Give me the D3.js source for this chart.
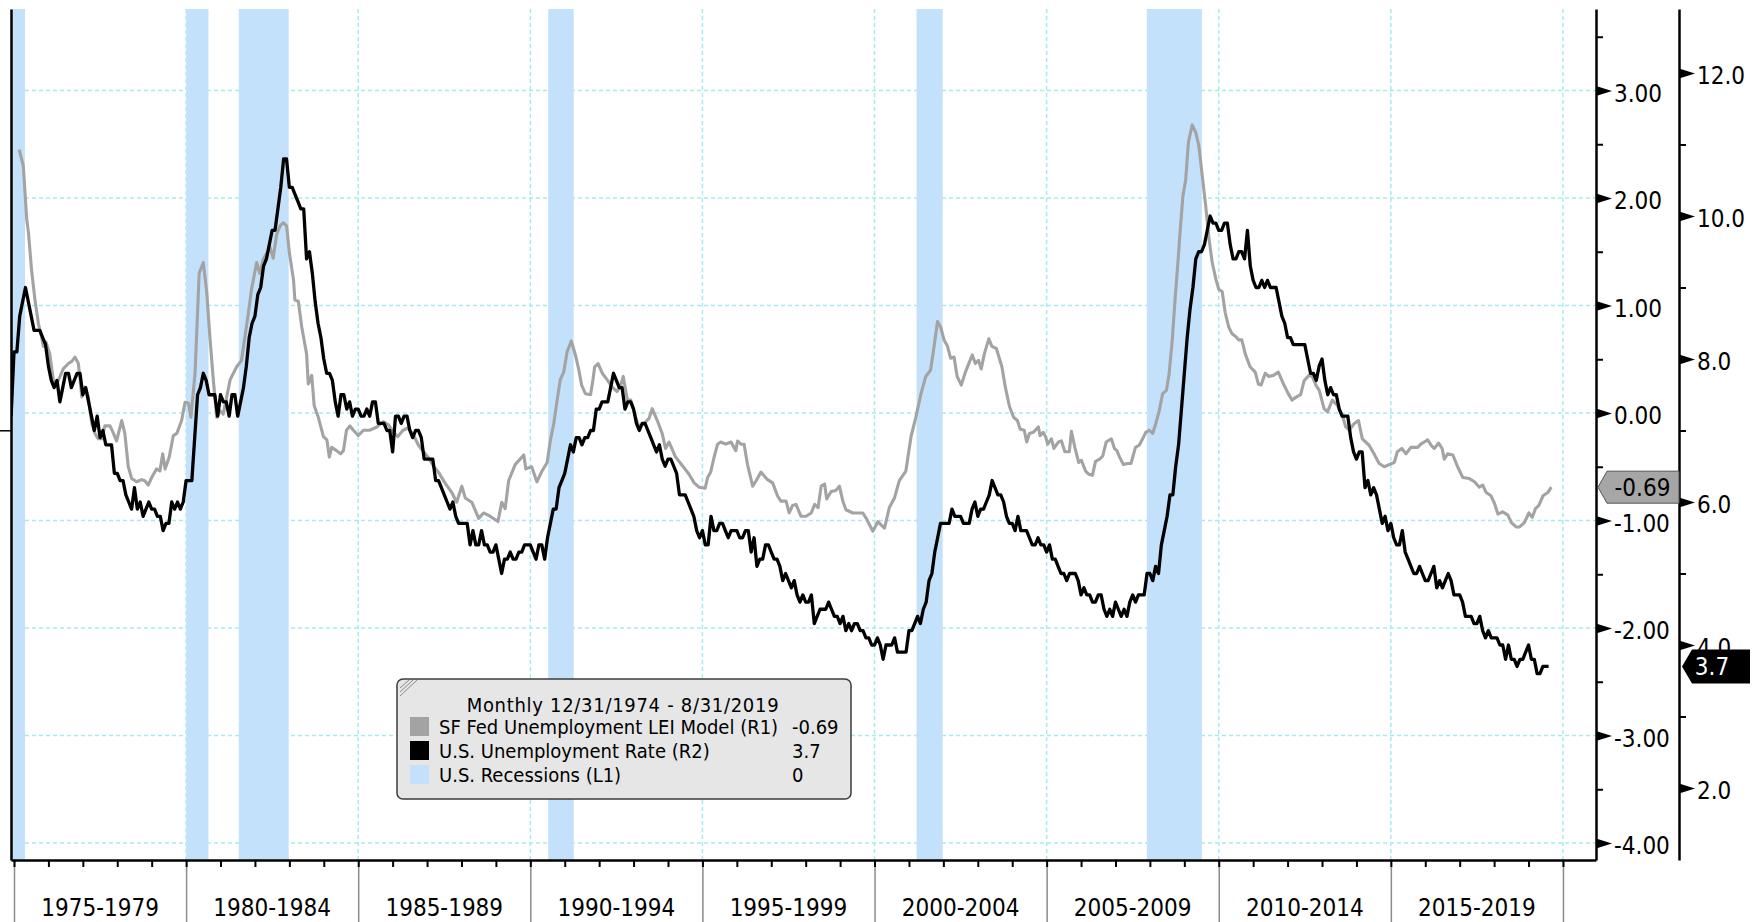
<!DOCTYPE html>
<html lang="en">
<head>
<meta charset="utf-8">
<title>SF Fed Unemployment LEI Model vs U.S. Unemployment Rate</title>
<script src="https://d3js.org/d3.v7.min.js"></script>
<style>
  body { margin: 0; background: #fff; }
  svg text { font-family: "DejaVu Sans Condensed", "DejaVu Sans", sans-serif; font-stretch: condensed; }
</style>
</head>
<body>
<script>
// ---- data ----
// U.S. unemployment rate (R2), monthly, Dec 1974 .. Aug 2019
var unrateStart = 1974 + 11 / 12;
var unrate = [
  7.2,
  8.1, 8.1, 8.6, 8.8, 9.0, 8.8, 8.6, 8.4, 8.4, 8.4, 8.3, 8.2,       // 1975
  7.9, 7.7, 7.6, 7.7, 7.4, 7.6, 7.8, 7.8, 7.6, 7.7, 7.8, 7.8,       // 1976
  7.5, 7.6, 7.4, 7.2, 7.0, 7.2, 6.9, 7.0, 6.8, 6.8, 6.8, 6.4,       // 1977
  6.4, 6.3, 6.3, 6.1, 6.0, 5.9, 6.2, 5.9, 6.0, 5.8, 5.9, 6.0,       // 1978
  5.9, 5.9, 5.8, 5.8, 5.6, 5.7, 5.7, 6.0, 5.9, 6.0, 5.9, 6.0,       // 1979
  6.3, 6.3, 6.3, 6.9, 7.5, 7.6, 7.8, 7.7, 7.5, 7.5, 7.5, 7.2,       // 1980
  7.5, 7.4, 7.4, 7.2, 7.5, 7.5, 7.2, 7.4, 7.6, 7.9, 8.3, 8.5,       // 1981
  8.6, 8.9, 9.0, 9.3, 9.4, 9.6, 9.8, 9.8, 10.1, 10.4, 10.8, 10.8,   // 1982
  10.4, 10.4, 10.3, 10.2, 10.1, 10.1, 9.4, 9.5, 9.2, 8.8, 8.5, 8.3, // 1983
  8.0, 7.8, 7.8, 7.7, 7.4, 7.2, 7.5, 7.5, 7.3, 7.4, 7.2, 7.3,       // 1984
  7.3, 7.2, 7.2, 7.3, 7.2, 7.4, 7.4, 7.1, 7.1, 7.1, 7.0, 7.0,       // 1985
  6.7, 7.2, 7.2, 7.1, 7.2, 7.2, 7.0, 6.9, 7.0, 7.0, 6.9, 6.6,       // 1986
  6.6, 6.6, 6.6, 6.3, 6.3, 6.2, 6.1, 6.0, 5.9, 6.0, 5.8, 5.7,       // 1987
  5.7, 5.7, 5.7, 5.4, 5.6, 5.4, 5.4, 5.6, 5.4, 5.4, 5.3, 5.3,       // 1988
  5.4, 5.2, 5.0, 5.2, 5.2, 5.3, 5.2, 5.2, 5.3, 5.3, 5.4, 5.4,       // 1989
  5.4, 5.3, 5.2, 5.4, 5.4, 5.2, 5.5, 5.7, 5.9, 5.9, 6.2, 6.3,       // 1990
  6.4, 6.6, 6.8, 6.7, 6.9, 6.9, 6.8, 6.9, 6.9, 7.0, 7.0, 7.3,       // 1991
  7.3, 7.4, 7.4, 7.4, 7.6, 7.8, 7.7, 7.6, 7.6, 7.3, 7.4, 7.4,       // 1992
  7.3, 7.1, 7.0, 7.1, 7.1, 7.0, 6.9, 6.8, 6.7, 6.8, 6.6, 6.5,       // 1993
  6.6, 6.6, 6.5, 6.4, 6.1, 6.1, 6.1, 6.0, 5.9, 5.8, 5.6, 5.5,       // 1994
  5.6, 5.4, 5.4, 5.8, 5.6, 5.6, 5.7, 5.7, 5.6, 5.5, 5.6, 5.6,       // 1995
  5.6, 5.5, 5.5, 5.6, 5.6, 5.3, 5.5, 5.1, 5.2, 5.2, 5.4, 5.4,       // 1996
  5.3, 5.2, 5.2, 5.1, 4.9, 5.0, 4.9, 4.8, 4.9, 4.7, 4.6, 4.7,       // 1997
  4.6, 4.6, 4.7, 4.3, 4.4, 4.5, 4.5, 4.5, 4.6, 4.5, 4.4, 4.4,       // 1998
  4.3, 4.4, 4.2, 4.3, 4.2, 4.3, 4.3, 4.2, 4.2, 4.1, 4.1, 4.0,       // 1999
  4.0, 4.1, 4.0, 3.8, 4.0, 4.0, 4.0, 4.1, 3.9, 3.9, 3.9, 3.9,       // 2000
  4.2, 4.2, 4.3, 4.4, 4.3, 4.5, 4.6, 4.9, 5.0, 5.3, 5.5, 5.7,       // 2001
  5.7, 5.7, 5.7, 5.9, 5.8, 5.8, 5.8, 5.7, 5.7, 5.7, 5.9, 6.0,       // 2002
  5.8, 5.9, 5.9, 6.0, 6.1, 6.3, 6.2, 6.1, 6.1, 6.0, 5.8, 5.7,       // 2003
  5.7, 5.6, 5.8, 5.6, 5.6, 5.6, 5.5, 5.4, 5.4, 5.5, 5.4, 5.4,       // 2004
  5.3, 5.4, 5.2, 5.2, 5.1, 5.0, 5.0, 4.9, 5.0, 5.0, 5.0, 4.9,       // 2005
  4.7, 4.8, 4.7, 4.7, 4.6, 4.6, 4.7, 4.7, 4.5, 4.4, 4.5, 4.4,       // 2006
  4.6, 4.5, 4.4, 4.5, 4.4, 4.6, 4.7, 4.6, 4.7, 4.7, 4.7, 5.0,       // 2007
  5.0, 4.9, 5.1, 5.0, 5.4, 5.6, 5.8, 6.1, 6.1, 6.5, 6.8, 7.3,       // 2008
  7.8, 8.3, 8.7, 9.0, 9.4, 9.5, 9.5, 9.6, 9.8, 10.0, 9.9, 9.9,      // 2009
  9.8, 9.8, 9.9, 9.9, 9.6, 9.4, 9.4, 9.5, 9.5, 9.4, 9.8, 9.3,       // 2010
  9.1, 9.0, 9.0, 9.1, 9.0, 9.1, 9.0, 9.0, 9.0, 8.8, 8.6, 8.5,       // 2011
  8.3, 8.3, 8.2, 8.2, 8.2, 8.2, 8.2, 8.0, 7.8, 7.8, 7.7, 7.9,       // 2012
  8.0, 7.7, 7.5, 7.6, 7.5, 7.5, 7.3, 7.2, 7.2, 7.2, 6.9, 6.7,       // 2013
  6.6, 6.7, 6.7, 6.2, 6.3, 6.1, 6.2, 6.1, 5.9, 5.7, 5.8, 5.6,       // 2014
  5.7, 5.5, 5.4, 5.4, 5.6, 5.3, 5.2, 5.1, 5.0, 5.0, 5.1, 5.0,       // 2015
  4.9, 4.9, 5.0, 5.1, 4.8, 4.9, 4.8, 4.9, 5.0, 4.9, 4.7, 4.7,       // 2016
  4.7, 4.6, 4.4, 4.4, 4.4, 4.3, 4.3, 4.4, 4.2, 4.1, 4.2, 4.1,       // 2017
  4.1, 4.1, 4.0, 4.0, 3.8, 4.0, 3.8, 3.8, 3.7, 3.8, 3.8, 3.9,       // 2018
  4.0, 3.8, 3.8, 3.6, 3.6, 3.7, 3.7, 3.7                           // 2019
];

// SF Fed unemployment LEI model (R1), [decimal year, value]
var lei = [
  [1975.15, 2.45], [1975.27, 2.30], [1975.37, 1.80], [1975.42, 1.68], [1975.51, 1.33],
  [1975.61, 1.05], [1975.71, 0.83], [1975.80, 0.71], [1975.85, 0.62], [1975.93, 0.66],
  [1976.04, 0.55], [1976.14, 0.31], [1976.24, 0.27], [1976.34, 0.34], [1976.43, 0.41],
  [1976.58, 0.46], [1976.68, 0.48], [1976.77, 0.52], [1976.87, 0.46], [1976.97, 0.15],
  [1977.06, 0.24], [1977.16, 0.15], [1977.26, -0.10], [1977.35, -0.19], [1977.45, -0.24],
  [1977.55, -0.24], [1977.64, -0.12], [1977.79, -0.12], [1977.89, -0.19], [1977.98, -0.26],
  [1978.13, -0.07], [1978.22, -0.19], [1978.32, -0.50], [1978.42, -0.61], [1978.56, -0.64],
  [1978.71, -0.62], [1978.80, -0.63], [1978.90, -0.67], [1979.00, -0.60], [1979.14, -0.52],
  [1979.24, -0.54], [1979.32, -0.38], [1979.39, -0.52], [1979.51, -0.41], [1979.63, -0.21],
  [1979.73, -0.19], [1979.87, -0.07], [1979.97, 0.10], [1980.07, 0.09], [1980.14, -0.04],
  [1980.26, 0.37], [1980.38, 1.30], [1980.50, 1.40], [1980.60, 1.12], [1980.69, 0.71],
  [1980.79, 0.31], [1980.89, -0.04], [1980.99, 0.02], [1981.08, -0.01], [1981.28, 0.31],
  [1981.47, 0.43], [1981.61, 0.49], [1981.71, 0.71], [1981.81, 0.93], [1981.90, 1.15],
  [1982.05, 1.40], [1982.14, 1.30], [1982.24, 1.43], [1982.44, 1.54], [1982.53, 1.44],
  [1982.63, 1.66], [1982.73, 1.74], [1982.82, 1.77], [1982.92, 1.74], [1983.00, 1.49],
  [1983.12, 1.24], [1983.16, 1.05], [1983.26, 1.04], [1983.36, 0.80], [1983.50, 0.55],
  [1983.55, 0.27], [1983.65, 0.35], [1983.72, 0.07], [1983.84, -0.04], [1983.99, -0.22],
  [1984.09, -0.25], [1984.16, -0.41], [1984.23, -0.32], [1984.37, -0.35], [1984.49, -0.38],
  [1984.57, -0.35], [1984.66, -0.16], [1984.76, -0.12], [1984.86, -0.16], [1985.00, -0.21],
  [1985.15, -0.16], [1985.34, -0.16], [1985.54, -0.13], [1985.73, -0.08], [1985.88, -0.11],
  [1986.02, -0.18], [1986.15, -0.22], [1986.30, -0.16], [1986.45, -0.14], [1986.60, -0.20],
  [1986.75, -0.30], [1986.90, -0.36], [1987.05, -0.42], [1987.20, -0.50], [1987.33, -0.55],
  [1987.52, -0.65], [1987.72, -0.74], [1987.86, -0.83], [1988.01, -0.68], [1988.11, -0.79],
  [1988.30, -0.83], [1988.50, -0.98], [1988.64, -0.93], [1988.83, -0.96], [1989.06, -1.01],
  [1989.17, -0.83], [1989.27, -0.89], [1989.37, -0.63], [1989.56, -0.48], [1989.81, -0.39],
  [1989.87, -0.52], [1990.04, -0.50], [1990.19, -0.64], [1990.34, -0.54], [1990.49, -0.46],
  [1990.58, -0.26], [1990.68, -0.10], [1990.78, 0.12], [1990.87, 0.31], [1990.97, 0.38],
  [1991.07, 0.57], [1991.19, 0.67], [1991.31, 0.54], [1991.41, 0.40], [1991.49, 0.26],
  [1991.60, 0.18], [1991.75, 0.17], [1991.82, 0.31], [1991.87, 0.43], [1991.97, 0.46],
  [1992.09, 0.37], [1992.23, 0.31], [1992.38, 0.24], [1992.52, 0.20], [1992.61, 0.24],
  [1992.70, 0.34], [1992.82, 0.12], [1992.92, 0.12], [1993.06, -0.04], [1993.16, -0.13],
  [1993.30, -0.10], [1993.45, -0.05], [1993.54, 0.04], [1993.69, -0.07], [1993.83, -0.19],
  [1993.93, -0.33], [1994.03, -0.27], [1994.22, -0.41], [1994.42, -0.49], [1994.61, -0.57],
  [1994.76, -0.65], [1994.90, -0.69], [1995.08, -0.70], [1995.15, -0.60], [1995.24, -0.55],
  [1995.34, -0.41], [1995.44, -0.29], [1995.53, -0.27], [1995.68, -0.29], [1995.83, -0.27],
  [1995.97, -0.35], [1996.02, -0.26], [1996.12, -0.29], [1996.21, -0.29], [1996.31, -0.48],
  [1996.46, -0.68], [1996.56, -0.63], [1996.70, -0.55], [1996.89, -0.62], [1997.04, -0.65],
  [1997.18, -0.77], [1997.28, -0.82], [1997.43, -0.82], [1997.52, -0.93], [1997.62, -0.86],
  [1997.72, -0.85], [1997.86, -0.96], [1998.01, -0.96], [1998.16, -0.93], [1998.26, -0.85],
  [1998.36, -0.88], [1998.45, -0.68], [1998.55, -0.66], [1998.61, -0.80], [1998.74, -0.73],
  [1998.88, -0.72], [1998.98, -0.68], [1999.08, -0.82], [1999.17, -0.90], [1999.37, -0.93],
  [1999.52, -0.93], [1999.66, -0.93], [1999.76, -0.98], [1999.95, -1.10], [2000.10, -1.01],
  [2000.19, -1.04], [2000.29, -1.07], [2000.43, -0.88], [2000.58, -0.79], [2000.72, -0.63],
  [2000.91, -0.54], [2001.06, -0.22], [2001.20, -0.04], [2001.35, 0.18], [2001.49, 0.34],
  [2001.63, 0.40], [2001.73, 0.62], [2001.83, 0.85], [2001.92, 0.80], [2002.02, 0.68],
  [2002.12, 0.62], [2002.21, 0.51], [2002.31, 0.52], [2002.40, 0.34], [2002.52, 0.26],
  [2002.64, 0.38], [2002.84, 0.54], [2002.93, 0.46], [2003.02, 0.49], [2003.10, 0.41],
  [2003.19, 0.55], [2003.32, 0.69], [2003.41, 0.62], [2003.54, 0.60], [2003.70, 0.43],
  [2003.80, 0.24], [2003.92, 0.06], [2004.04, -0.04], [2004.15, -0.07], [2004.23, -0.15],
  [2004.35, -0.16], [2004.42, -0.27], [2004.50, -0.19], [2004.61, -0.18], [2004.76, -0.13],
  [2004.81, -0.21], [2004.90, -0.18], [2004.97, -0.22], [2005.03, -0.29], [2005.14, -0.24],
  [2005.21, -0.33], [2005.34, -0.27], [2005.43, -0.26], [2005.53, -0.36], [2005.66, -0.36],
  [2005.72, -0.17], [2005.82, -0.32], [2005.93, -0.46], [2006.01, -0.44], [2006.13, -0.54],
  [2006.23, -0.57], [2006.33, -0.58], [2006.42, -0.45], [2006.54, -0.43], [2006.63, -0.40],
  [2006.73, -0.27], [2006.88, -0.24], [2006.97, -0.33], [2007.04, -0.35], [2007.12, -0.41],
  [2007.23, -0.48], [2007.35, -0.47], [2007.45, -0.47], [2007.58, -0.32], [2007.69, -0.30],
  [2007.79, -0.24], [2007.88, -0.18], [2007.98, -0.16], [2008.08, -0.19], [2008.17, -0.10],
  [2008.27, 0.02], [2008.37, 0.18], [2008.48, 0.21], [2008.56, 0.37], [2008.65, 0.68],
  [2008.73, 1.05], [2008.82, 1.43], [2008.89, 1.74], [2008.96, 2.02], [2009.04, 2.17],
  [2009.12, 2.52], [2009.23, 2.68], [2009.33, 2.61], [2009.42, 2.49], [2009.52, 2.21],
  [2009.62, 1.93], [2009.71, 1.64], [2009.81, 1.40], [2009.92, 1.24], [2010.00, 1.15],
  [2010.10, 1.13], [2010.19, 0.93], [2010.29, 0.80], [2010.38, 0.74], [2010.50, 0.71],
  [2010.58, 0.68], [2010.67, 0.68], [2010.77, 0.55], [2010.91, 0.43], [2011.06, 0.38],
  [2011.15, 0.27], [2011.23, 0.26], [2011.35, 0.37], [2011.45, 0.34], [2011.59, 0.35],
  [2011.73, 0.38], [2011.88, 0.27], [2012.02, 0.18], [2012.13, 0.12], [2012.26, 0.15],
  [2012.38, 0.17], [2012.48, 0.30], [2012.62, 0.35], [2012.72, 0.34], [2012.82, 0.26],
  [2012.92, 0.21], [2013.06, 0.04], [2013.16, 0.01], [2013.30, 0.12], [2013.45, 0.07],
  [2013.59, -0.02], [2013.69, -0.13], [2013.79, -0.16], [2013.93, -0.10], [2014.06, -0.07],
  [2014.17, -0.24], [2014.37, -0.30], [2014.51, -0.38], [2014.66, -0.47], [2014.81, -0.50],
  [2014.95, -0.48], [2015.10, -0.46], [2015.19, -0.36], [2015.32, -0.33], [2015.44, -0.38],
  [2015.58, -0.32], [2015.78, -0.32], [2015.87, -0.29], [2015.97, -0.27], [2016.07, -0.25],
  [2016.17, -0.30], [2016.26, -0.33], [2016.39, -0.28], [2016.49, -0.33], [2016.55, -0.43],
  [2016.65, -0.38], [2016.80, -0.39], [2016.94, -0.50], [2017.09, -0.60], [2017.28, -0.61],
  [2017.43, -0.64], [2017.57, -0.69], [2017.67, -0.67], [2017.77, -0.74], [2017.91, -0.77],
  [2018.01, -0.84], [2018.11, -0.94], [2018.25, -0.92], [2018.40, -0.95], [2018.50, -1.02],
  [2018.64, -1.06], [2018.74, -1.06], [2018.88, -1.02], [2019.01, -0.93], [2019.11, -0.97],
  [2019.20, -0.89], [2019.30, -0.86], [2019.42, -0.77], [2019.56, -0.74], [2019.66, -0.69]
];

// U.S. recessions (L1), [start, end] in decimal years
var recessions = [
  [1974.91, 1975.32], [1980.00, 1980.65], [1981.53, 1982.98],
  [1990.52, 1991.26], [2001.22, 2001.98], [2007.91, 2009.51]
];

var periods = ["1975-1979", "1980-1984", "1985-1989", "1990-1994", "1995-1999",
               "2000-2004", "2005-2009", "2010-2014", "2015-2019"];
var periodStarts = [1975, 1980, 1985, 1990, 1995, 2000, 2005, 2010, 2015];
var r1Ticks = [-4, -3, -2, -1, 0, 1, 2, 3];
var r1Minor = [-3.5, -2.5, -1.5, -0.5, 0.5, 1.5, 2.5, 3.5];
var r2Ticks = [2, 4, 6, 8, 10, 12];
var r2Minor = [3, 5, 7, 9, 11];

var legendTitle = "Monthly 12/31/1974 - 8/31/2019";
var legendRows = [
  { name: "SF Fed Unemployment LEI Model (R1)", value: "-0.69", color: "#a3a3a3" },
  { name: "U.S. Unemployment Rate (R2)", value: "3.7", color: "#000000" },
  { name: "U.S. Recessions (L1)", value: "0", color: "#c3e1fb" }
];

// ---- layout ----
var width = 1760, height = 922;
var plotL = 11, plotR = 1596, plotT = 9, plotB = 860;
var axis2X = 1679;
var axisFont = 24;

var x = d3.scaleLinear().domain([1974.913, 2020.96]).range([plotL, plotR]);
var y1 = d3.scaleLinear().domain([-4.158, 3.758]).range([plotB, plotT]);
var y2 = d3.scaleLinear().domain([0.993, 12.895]).range([plotB, plotT]);
var yL = d3.scaleLinear().domain([-1.02, 1]).range([plotB, plotT]);

var svg = d3.select("body").append("svg")
  .attr("width", width)
  .attr("height", height);

svg.append("defs").append("clipPath").attr("id", "plot-clip")
  .append("rect")
  .attr("x", plotL).attr("y", plotT)
  .attr("width", plotR - plotL).attr("height", plotB - plotT);

// grid
var grid = svg.append("g").attr("class", "grid")
  .attr("stroke", "#a6ecef").attr("stroke-width", 1.5).attr("stroke-dasharray", "4,3");
grid.selectAll("line.h").data(r1Ticks).enter().append("line")
  .attr("class", "h")
  .attr("x1", plotL).attr("x2", plotR)
  .attr("y1", function(d) { return y1(d); }).attr("y2", function(d) { return y1(d); });
grid.selectAll("line.v").data(periodStarts.concat([2020])).enter().append("line")
  .attr("class", "v")
  .attr("y1", plotT).attr("y2", plotB)
  .attr("x1", function(d) { return x(d); }).attr("x2", function(d) { return x(d); });

// recession bands
svg.append("g").selectAll("rect").data(recessions).enter().append("rect")
  .attr("x", function(d) { return x(d[0]); })
  .attr("width", function(d) { return x(d[1]) - x(d[0]); })
  .attr("y", yL(1))
  .attr("height", yL(-1.02) - yL(1))
  .attr("fill", "#c3e1fb");

// lines
var plot = svg.append("g").attr("clip-path", "url(#plot-clip)");
plot.append("path")
  .datum(lei)
  .attr("fill", "none")
  .attr("stroke", "#a3a3a3")
  .attr("stroke-width", 3.1)
  .attr("stroke-linejoin", "round")
  .attr("d", d3.line().x(function(d) { return x(d[0]); }).y(function(d) { return y1(d[1]); }));

plot.append("path")
  .datum(unrate)
  .attr("fill", "none")
  .attr("stroke", "#000")
  .attr("stroke-width", 3.3)
  .attr("stroke-linejoin", "round")
  .attr("d", d3.line()
    .x(function(d, i) { return x(unrateStart + i / 12); })
    .y(function(d) { return y2(d); }));

// bottom axis
var fmtR1 = function(v) { return (v < 0 ? "-" : "") + Math.abs(v).toFixed(2); };

svg.append("g")
  .attr("transform", "translate(0," + plotB + ")")
  .call(d3.axisBottom(x).tickValues(periodStarts.concat([2020])).tickSize(height - plotB).tickSizeOuter(0).tickFormat(""))
  .call(function(g) {
    g.select(".domain").remove();
    g.selectAll(".tick line").attr("stroke", "#8c8c8c").attr("stroke-width", 1.5);
  });

svg.append("g")
  .attr("transform", "translate(0," + plotB + ")")
  .call(d3.axisBottom(x).tickValues(d3.range(1975, 2021)).tickSize(7).tickSizeOuter(0).tickFormat(""))
  .call(function(g) {
    g.select(".domain").attr("stroke", "#000").attr("stroke-width", 2.5);
    g.selectAll(".tick line").attr("stroke", "#000").attr("stroke-width", 2);
  });

svg.append("g").selectAll("text").data(periods).enter().append("text")
  .attr("x", function(d, i) { return x(periodStarts[i] + 2.5); })
  .attr("y", 916)
  .attr("text-anchor", "middle")
  .attr("font-size", axisFont)
  .attr("fill", "#000")
  .text(function(d) { return d; });

// left axis (L1)
svg.append("g")
  .attr("transform", "translate(" + plotL + ",0)")
  .call(d3.axisLeft(yL).tickValues([0]).tickSize(11).tickSizeOuter(0).tickFormat(""))
  .call(function(g) {
    g.select(".domain").attr("stroke", "#000").attr("stroke-width", 2.5);
    g.selectAll(".tick line").attr("stroke", "#000").attr("stroke-width", 1.5);
  });

// right axes
function rightAxis(scale, xPos, major, minor, fmt) {
  var g = svg.append("g").attr("transform", "translate(" + xPos + ",0)");
  g.append("g")
    .call(d3.axisRight(scale).tickValues(minor).tickSize(7).tickSizeOuter(0).tickFormat(""))
    .call(function(a) {
      a.select(".domain").attr("stroke", "#000").attr("stroke-width", 2.5);
      a.selectAll(".tick line").attr("stroke", "#000").attr("stroke-width", 2);
    });
  g.append("g")
    .call(d3.axisRight(scale).tickValues(major).tickSize(0).tickPadding(18).tickSizeOuter(0).tickFormat(fmt))
    .call(function(a) {
      a.select(".domain").remove();
      a.selectAll(".tick").append("path").attr("d", "M0,-5L16,0L0,5Z").attr("fill", "#000");
      a.selectAll(".tick text")
        .attr("font-size", axisFont)
        .attr("fill", "#000")
        .attr("font-family", null)
        .attr("dy", "0.45em");
    });
  return g;
}
rightAxis(y1, plotR, r1Ticks, r1Minor, fmtR1);
rightAxis(y2, axis2X, r2Ticks, r2Minor, d3.format(".1f"));

// last-value tags
var lastLei = lei[lei.length - 1][1];
var lastRate = unrate[unrate.length - 1];

var ty = y1(lastLei);
svg.append("path")
  .attr("d", "M" + (plotR + 2) + "," + ty + "L" + (plotR + 11) + "," + (ty - 16) + "L" + axis2X + "," + (ty - 16) +
             "L" + axis2X + "," + (ty + 16) + "L" + (plotR + 11) + "," + (ty + 16) + "Z")
  .attr("fill", "#a6a6a6").attr("stroke", "#555").attr("stroke-width", 1);
svg.append("text")
  .attr("x", (plotR + axis2X) / 2 + 5).attr("y", ty).attr("dy", "0.36em")
  .attr("text-anchor", "middle").attr("font-size", axisFont).attr("fill", "#000")
  .text(fmtR1(lastLei));

var ry = y2(lastRate);
svg.append("path")
  .attr("d", "M" + (axis2X + 3) + "," + ry + "L" + (axis2X + 13) + "," + (ry - 17) + "L1750," + (ry - 17) +
             "L1750," + (ry + 17) + "L" + (axis2X + 13) + "," + (ry + 17) + "Z")
  .attr("fill", "#000");
svg.append("text")
  .attr("x", 1712).attr("y", ry).attr("dy", "0.36em")
  .attr("text-anchor", "middle").attr("font-size", axisFont).attr("fill", "#fff")
  .text(d3.format(".1f")(lastRate));

// legend
var lg = svg.append("g").attr("transform", "translate(397,679)");
lg.append("rect")
  .attr("width", 454).attr("height", 120).attr("rx", 6)
  .attr("fill", "#e6e6e6").attr("stroke", "#3c3c3c").attr("stroke-width", 1.5);
lg.selectAll("line.hatch").data([0, 4, 8]).enter().append("line")
  .attr("class", "hatch")
  .attr("x1", 3).attr("y1", function(d) { return 9 + d; })
  .attr("x2", function(d) { return 12 + d; }).attr("y2", 1)
  .attr("stroke", "#888").attr("stroke-width", 1);
lg.append("text")
  .attr("x", 226).attr("y", 33)
  .attr("text-anchor", "middle").attr("font-size", 20).attr("letter-spacing", 0.7).attr("fill", "#000")
  .text(legendTitle);
var rows = lg.selectAll("g.row").data(legendRows).enter().append("g")
  .attr("class", "row")
  .attr("transform", function(d, i) { return "translate(0," + (38 + i * 24) + ")"; });
rows.append("rect")
  .attr("x", 13).attr("width", 19).attr("height", 19)
  .attr("fill", function(d) { return d.color; });
rows.append("text")
  .attr("x", 42).attr("y", 17).attr("font-size", 20).attr("fill", "#000")
  .text(function(d) { return d.name; });
rows.append("text")
  .attr("x", 395).attr("y", 17).attr("font-size", 20).attr("fill", "#000")
  .text(function(d) { return d.value; });
</script>
</body>
</html>
